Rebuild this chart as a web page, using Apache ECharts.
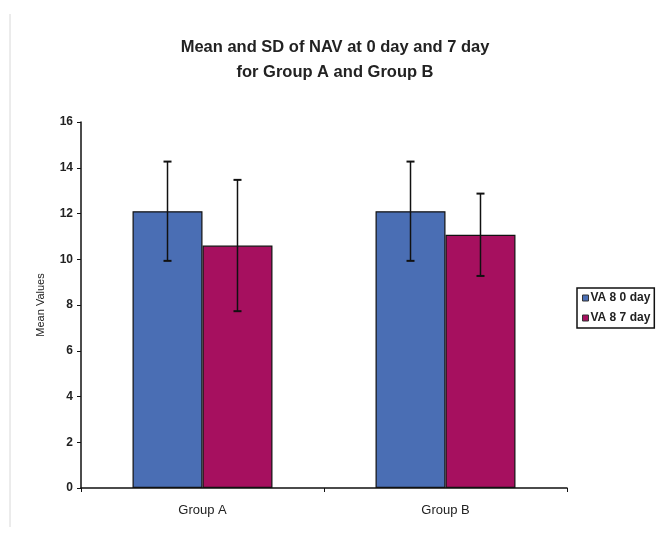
<!DOCTYPE html>
<html>
<head>
<meta charset="utf-8">
<script src="https://cdn.jsdelivr.net/npm/echarts@6/dist/echarts.min.js"></script>
<style>html,body{margin:0;padding:0;background:#fff;}#c{width:670px;height:537px;}</style>
</head>
<body>
<div id="c"></div>
<script>
var categories = ['Group A', 'Group B'];
var seriesNames = ['VA 8 0 day', 'VA 8 7 day'];
var mean0 = [12.1, 12.1];
var sd0 = [2.17, 2.17];
var mean7 = [10.6, 11.07];
var sd7 = [2.87, 1.8];
var yTicks = [0, 2, 4, 6, 8, 10, 12, 14, 16];

var colors = ['#4A6EB4', '#A6105F'];
var FONT = '"Liberation Sans", Arial, sans-serif';

function errData(means, sds) {
  return means.map(function (m, i) { return [i, m - sds[i], m + sds[i]]; });
}

function errSeries(name, means, sds, side) {
  return {
    type: 'custom',
    name: name + ' SD',
    data: errData(means, sds),
    z: 10,
    silent: true,
    encode: { x: 0, y: [1, 2] },
    renderItem: function (params, api) {
      var band = api.size([1, 0])[0];
      var off = side * band * 0.144;
      var lo = api.coord([api.value(0), api.value(1)]);
      var hi = api.coord([api.value(0), api.value(2)]);
      var x = lo[0] + off;
      var cap = 4;
      var st = { stroke: '#111', lineWidth: 1.5 };
      return {
        type: 'group',
        children: [
          { type: 'line', shape: { x1: x, y1: lo[1], x2: x, y2: hi[1] }, style: st },
          { type: 'line', shape: { x1: x - cap, y1: lo[1], x2: x + cap, y2: lo[1] }, style: { stroke: '#111', lineWidth: 2 } },
          { type: 'line', shape: { x1: x - cap, y1: hi[1], x2: x + cap, y2: hi[1] }, style: { stroke: '#111', lineWidth: 2 } }
        ]
      };
    }
  };
}

var chart = echarts.init(document.getElementById('c'), null, { renderer: 'canvas' });
chart.setOption({
  animation: false,
  backgroundColor: '#ffffff',
  title: {
    text: 'Mean and SD of NAV at 0 day and 7 day\nfor Group A and Group B',
    left: 'center',
    top: 30,
    textStyle: { fontFamily: FONT, fontSize: 16.5, fontWeight: 'bold', color: '#222', lineHeight: 25 }
  },
  legend: {
    orient: 'vertical',
    left: 577,
    top: 288,
    data: seriesNames,
    icon: 'rect',
    itemWidth: 6,
    itemHeight: 6,
    itemGap: 6,
    padding: [3, 4, 3, 5],
    borderColor: '#111',
    borderWidth: 1.5,
    textStyle: { fontFamily: FONT, fontSize: 12, fontWeight: 'bold', color: '#222', padding: [0, 0, 0, -3], lineHeight: 14 },
    itemStyle: { borderColor: '#333', borderWidth: 1 }
  },
  grid: { left: 81, right: 103, top: 122, bottom: 49, containLabel: false },
  xAxis: {
    type: 'category',
    data: categories,
    boundaryGap: true,
    axisLine: { lineStyle: { color: '#111', width: 1.5 } },
    axisTick: { show: true, length: 4, lineStyle: { color: '#111' } },
    axisLabel: { fontFamily: FONT, fontSize: 13, color: '#222', margin: 16 }
  },
  yAxis: {
    type: 'value',
    min: yTicks[0],
    max: yTicks[yTicks.length - 1],
    interval: 2,
    name: 'Mean Values',
    nameLocation: 'middle',
    nameRotate: 90,
    nameGap: 35,
    nameTextStyle: { fontFamily: FONT, fontSize: 11, color: '#222' },
    axisLine: { show: true, lineStyle: { color: '#111', width: 1.5 } },
    axisTick: { show: true, inside: false, length: 4, lineStyle: { color: '#111' } },
    axisLabel: { fontFamily: FONT, fontSize: 12, fontWeight: 'bold', color: '#222', margin: 8 },
    splitLine: { show: false }
  },
  series: [
    {
      name: seriesNames[0], type: 'bar', data: mean0,
      barGap: '0%', barCategoryGap: '42.4%',
      itemStyle: { color: colors[0], borderColor: '#111', borderWidth: 1.2 }
    },
    {
      name: seriesNames[1], type: 'bar', data: mean7,
      barGap: '0%', barCategoryGap: '42.4%',
      itemStyle: { color: colors[1], borderColor: '#111', borderWidth: 1.2 }
    },
    errSeries(seriesNames[0], mean0, sd0, -1),
    errSeries(seriesNames[1], mean7, sd7, 1)
  ],
  graphic: [
    { type: 'line', shape: { x1: 10, y1: 14, x2: 10, y2: 527 }, style: { stroke: '#d8d8d8', lineWidth: 1 }, silent: true }
  ]
});
</script>
</body>
</html>
